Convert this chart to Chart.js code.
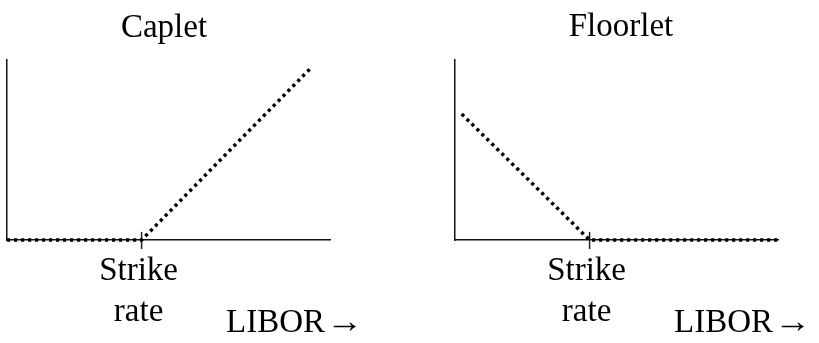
<!DOCTYPE html>
<html>
<head>
<meta charset="utf-8">
<script src="https://cdn.jsdelivr.net/npm/chart.js@4/dist/chart.umd.min.js"></script>
<style>
  html, body { margin: 0; padding: 0; background: #fff; }
  #wrap { position: relative; width: 819px; height: 343px; }
  canvas { position: absolute; top: 0; }
</style>
</head>
<body>
<div id="wrap">
  <canvas id="caplet" width="410" height="343" style="left:0"></canvas>
  <canvas id="floorlet" width="409" height="343" style="left:410px"></canvas>
</div>
<script>
// LIBOR axis runs 0..12, payoff axis 0..10, strike sits at 5
const strikeRate = 5;
const caplet_x = [0, 5, 11.25];
const caplet_y = [0, 0, 9.5];
const floorlet_x = [0.25, 5, 12];
const floorlet_y = [7, 0, 0];
const tick_y = [-0.5, 0.45];
const titles = ['Caplet', 'Floorlet'];
const strikeLabel = ['Strike', 'rate'];
const axisLabel = 'LIBOR';
const axisArrow = '\u2192';

const FONT = '33px "Liberation Serif", "Times New Roman", serif';

function pts(xs, ys) {
  return xs.map((x, i) => ({x: x, y: ys[i]}));
}

// draws the title, the strike label and the LIBOR label
const labelsPlugin = {
  id: 'labels',
  afterDraw(chart, args, opts) {
    const ctx = chart.ctx;
    const xs = chart.scales.x;
    const area = chart.chartArea;
    ctx.save();
    ctx.fillStyle = '#000';
    ctx.font = FONT;
    ctx.textBaseline = 'alphabetic';
    ctx.textAlign = 'center';
    ctx.fillText(opts.title, area.left + opts.titleDx, opts.titleY);
    const sx = xs.getPixelForValue(strikeRate) - 3;
    ctx.fillText(strikeLabel[0], sx, 280);
    ctx.fillText(strikeLabel[1], sx, 321);
    ctx.textAlign = 'left';
    const lx = area.left + 219;
    ctx.fillText(axisLabel, lx, 332);
    // the arrow is a long thin one in the original, so stretch it
    const ax = lx + ctx.measureText(axisLabel).width + 1;
    const aw = ctx.measureText(axisArrow).width;
    ctx.translate(ax, 332);
    ctx.scale(37 / aw, 1);
    ctx.fillText(axisArrow, 0, 0);
    ctx.restore();
  },
};

function makeChart(id, xs, ys, padding, title, titleDx, titleY) {
  const axisOpts = {
    type: 'linear',
    ticks: {display: false},
    grid: {display: false},
    border: {display: true, color: '#111', width: 1.5},
  };
  new Chart(document.getElementById(id), {
    type: 'line',
    data: {
      datasets: [{
        data: pts(xs, ys),
        borderColor: '#000',
        borderWidth: 3.5,
        borderDash: [3.2, 3.8],
        borderCapStyle: 'butt',
        pointRadius: 0,
        tension: 0,
        clip: false,
      }, {
        data: pts([strikeRate, strikeRate], tick_y),
        borderColor: '#222',
        borderWidth: 1.5,
        pointRadius: 0,
        clip: false,
      }],
    },
    options: {
      responsive: false,
      animation: false,
      layout: {padding: padding},
      plugins: {
        legend: {display: false},
        tooltip: {enabled: false},
        labels: {title: title, titleDx: titleDx, titleY: titleY},
      },
      scales: {
        x: Object.assign({}, axisOpts, {
          min: 0, max: 12,
          afterFit: (s) => { s.height = 0; },
        }),
        y: Object.assign({}, axisOpts, {
          min: 0, max: 10,
          afterFit: (s) => { s.width = 0; },
        }),
      },
    },
    plugins: [labelsPlugin],
  });
}

makeChart('caplet', caplet_x, caplet_y,
  {left: 7, right: 80, top: 60, bottom: 103}, titles[0], 157, 37);
makeChart('floorlet', floorlet_x, floorlet_y,
  {left: 45, right: 41, top: 60, bottom: 103}, titles[1], 166, 36);
</script>
</body>
</html>
